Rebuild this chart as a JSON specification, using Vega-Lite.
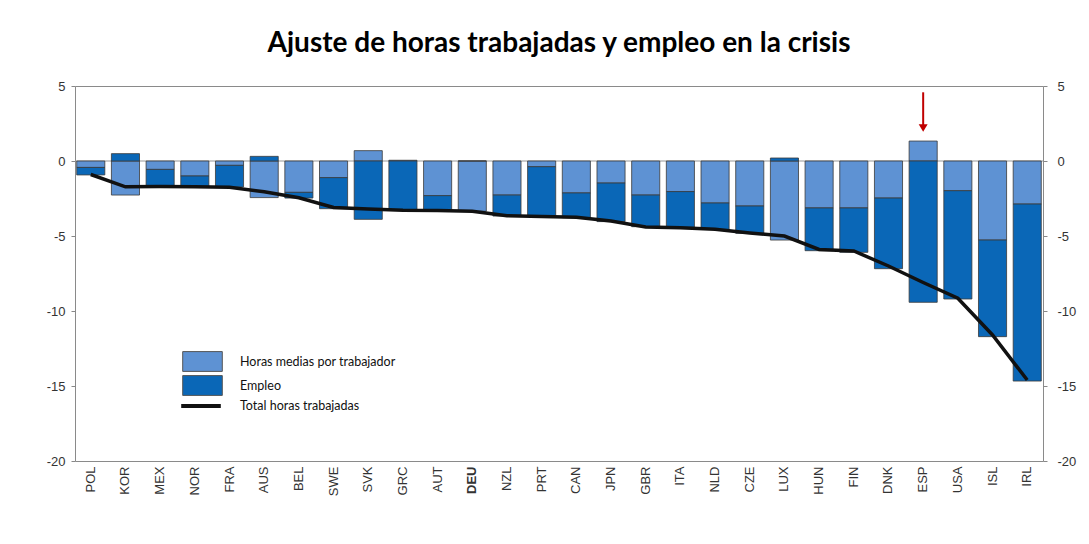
{
  "$schema": "https://vega.github.io/schema/vega-lite/v6.json",
  "autosize": "none",
  "width": 968,
  "height": 375,
  "padding": {"left": 75, "top": 86, "right": 46, "bottom": 83},
  "background": "white",
  "title": {"text": "Ajuste de horas trabajadas y empleo en la crisis", "font": "Lato", "fontSize": 28, "fontWeight": "bold", "color": "#000000", "anchor": "middle", "offset": 22},
  "config": {
    "view": {"stroke": "#8a8a8a", "strokeWidth": 1},
    "axis": {"labelFont": "Liberation Sans", "labelFontSize": 13, "labelColor": "#333333", "tickColor": "#888888", "tickSize": 4, "domain": false, "grid": false, "title": null}
  },
  "datasets": {
    "barras": [
      {"pais": "POL", "serie": "Horas medias por trabajador", "valor": -0.43},
      {"pais": "POL", "serie": "Empleo", "valor": -0.5},
      {"pais": "KOR", "serie": "Horas medias por trabajador", "valor": -2.27},
      {"pais": "KOR", "serie": "Empleo", "valor": 0.49},
      {"pais": "MEX", "serie": "Horas medias por trabajador", "valor": -0.56},
      {"pais": "MEX", "serie": "Empleo", "valor": -1.11},
      {"pais": "NOR", "serie": "Horas medias por trabajador", "valor": -1.0},
      {"pais": "NOR", "serie": "Empleo", "valor": -0.7},
      {"pais": "FRA", "serie": "Horas medias por trabajador", "valor": -0.29},
      {"pais": "FRA", "serie": "Empleo", "valor": -1.44},
      {"pais": "AUS", "serie": "Horas medias por trabajador", "valor": -2.44},
      {"pais": "AUS", "serie": "Empleo", "valor": 0.31},
      {"pais": "BEL", "serie": "Horas medias por trabajador", "valor": -2.09},
      {"pais": "BEL", "serie": "Empleo", "valor": -0.38},
      {"pais": "SWE", "serie": "Horas medias por trabajador", "valor": -1.11},
      {"pais": "SWE", "serie": "Empleo", "valor": -2.07},
      {"pais": "SVK", "serie": "Horas medias por trabajador", "valor": 0.69},
      {"pais": "SVK", "serie": "Empleo", "valor": -3.89},
      {"pais": "GRC", "serie": "Horas medias por trabajador", "valor": 0.05},
      {"pais": "GRC", "serie": "Empleo", "valor": -3.27},
      {"pais": "AUT", "serie": "Horas medias por trabajador", "valor": -2.31},
      {"pais": "AUT", "serie": "Empleo", "valor": -0.98},
      {"pais": "DEU", "serie": "Horas medias por trabajador", "valor": -3.35},
      {"pais": "DEU", "serie": "Empleo", "valor": 0.0},
      {"pais": "NZL", "serie": "Horas medias por trabajador", "valor": -2.27},
      {"pais": "NZL", "serie": "Empleo", "valor": -1.4},
      {"pais": "PRT", "serie": "Horas medias por trabajador", "valor": -0.38},
      {"pais": "PRT", "serie": "Empleo", "valor": -3.29},
      {"pais": "CAN", "serie": "Horas medias por trabajador", "valor": -2.13},
      {"pais": "CAN", "serie": "Empleo", "valor": -1.65},
      {"pais": "JPN", "serie": "Horas medias por trabajador", "valor": -1.47},
      {"pais": "JPN", "serie": "Empleo", "valor": -2.57},
      {"pais": "GBR", "serie": "Horas medias por trabajador", "valor": -2.27},
      {"pais": "GBR", "serie": "Empleo", "valor": -2.11},
      {"pais": "ITA", "serie": "Horas medias por trabajador", "valor": -2.04},
      {"pais": "ITA", "serie": "Empleo", "valor": -2.38},
      {"pais": "NLD", "serie": "Horas medias por trabajador", "valor": -2.8},
      {"pais": "NLD", "serie": "Empleo", "valor": -1.76},
      {"pais": "CZE", "serie": "Horas medias por trabajador", "valor": -3.0},
      {"pais": "CZE", "serie": "Empleo", "valor": -1.82},
      {"pais": "LUX", "serie": "Horas medias por trabajador", "valor": -5.27},
      {"pais": "LUX", "serie": "Empleo", "valor": 0.2},
      {"pais": "HUN", "serie": "Horas medias por trabajador", "valor": -3.13},
      {"pais": "HUN", "serie": "Empleo", "valor": -2.85},
      {"pais": "FIN", "serie": "Horas medias por trabajador", "valor": -3.13},
      {"pais": "FIN", "serie": "Empleo", "valor": -2.96},
      {"pais": "DNK", "serie": "Horas medias por trabajador", "valor": -2.47},
      {"pais": "DNK", "serie": "Empleo", "valor": -4.71},
      {"pais": "ESP", "serie": "Horas medias por trabajador", "valor": 1.33},
      {"pais": "ESP", "serie": "Empleo", "valor": -9.42},
      {"pais": "USA", "serie": "Horas medias por trabajador", "valor": -1.98},
      {"pais": "USA", "serie": "Empleo", "valor": -7.22},
      {"pais": "ISL", "serie": "Horas medias por trabajador", "valor": -5.27},
      {"pais": "ISL", "serie": "Empleo", "valor": -6.44},
      {"pais": "IRL", "serie": "Horas medias por trabajador", "valor": -2.87},
      {"pais": "IRL", "serie": "Empleo", "valor": -11.8}
    ],
    "total": [
      {"pais": "POL", "total": -0.9, "serie": "Total horas trabajadas"},
      {"pais": "KOR", "total": -1.72, "serie": "Total horas trabajadas"},
      {"pais": "MEX", "total": -1.7, "serie": "Total horas trabajadas"},
      {"pais": "NOR", "total": -1.72, "serie": "Total horas trabajadas"},
      {"pais": "FRA", "total": -1.75, "serie": "Total horas trabajadas"},
      {"pais": "AUS", "total": -2.05, "serie": "Total horas trabajadas"},
      {"pais": "BEL", "total": -2.45, "serie": "Total horas trabajadas"},
      {"pais": "SWE", "total": -3.1, "serie": "Total horas trabajadas"},
      {"pais": "SVK", "total": -3.2, "serie": "Total horas trabajadas"},
      {"pais": "GRC", "total": -3.28, "serie": "Total horas trabajadas"},
      {"pais": "AUT", "total": -3.3, "serie": "Total horas trabajadas"},
      {"pais": "DEU", "total": -3.35, "serie": "Total horas trabajadas"},
      {"pais": "NZL", "total": -3.65, "serie": "Total horas trabajadas"},
      {"pais": "PRT", "total": -3.7, "serie": "Total horas trabajadas"},
      {"pais": "CAN", "total": -3.75, "serie": "Total horas trabajadas"},
      {"pais": "JPN", "total": -4.0, "serie": "Total horas trabajadas"},
      {"pais": "GBR", "total": -4.4, "serie": "Total horas trabajadas"},
      {"pais": "ITA", "total": -4.45, "serie": "Total horas trabajadas"},
      {"pais": "NLD", "total": -4.55, "serie": "Total horas trabajadas"},
      {"pais": "CZE", "total": -4.8, "serie": "Total horas trabajadas"},
      {"pais": "LUX", "total": -5.0, "serie": "Total horas trabajadas"},
      {"pais": "HUN", "total": -5.9, "serie": "Total horas trabajadas"},
      {"pais": "FIN", "total": -6.0, "serie": "Total horas trabajadas"},
      {"pais": "DNK", "total": -7.0, "serie": "Total horas trabajadas"},
      {"pais": "ESP", "total": -8.1, "serie": "Total horas trabajadas"},
      {"pais": "USA", "total": -9.15, "serie": "Total horas trabajadas"},
      {"pais": "ISL", "total": -11.6, "serie": "Total horas trabajadas"},
      {"pais": "IRL", "total": -14.6, "serie": "Total horas trabajadas"}
    ]
  },
  "resolve": {"axis": {"y": "independent"}},
  "layer": [
    {
      "data": {"values": [{}]},
      "mark": {"type": "rule", "color": "#999999", "strokeWidth": 1},
      "encoding": {
        "y": {"datum": 0, "type": "quantitative", "scale": {"domain": [-20, 5], "nice": false}, "axis": null}
      }
    },
    {
      "data": {"name": "barras"},
      "mark": {"type": "bar", "stroke": "#3a3a3a", "strokeWidth": 0.8},
      "encoding": {
        "x": {
          "field": "pais", "type": "nominal",
          "scale": {"domain": ["POL","KOR","MEX","NOR","FRA","AUS","BEL","SWE","SVK","GRC","AUT","DEU","NZL","PRT","CAN","JPN","GBR","ITA","NLD","CZE","LUX","HUN","FIN","DNK","ESP","USA","ISL","IRL"], "paddingInner": 0.19, "paddingOuter": 0.05},
          "axis": {"labelAngle": -90, "ticks": false, "labelPadding": 5, "labelFontSize": 13, "labelFontWeight": {"condition": {"test": "datum.value === 'DEU'", "value": "bold"}, "value": "normal"}, "labelColor": "#333333"}
        },
        "y": {
          "field": "valor", "type": "quantitative", "stack": "zero",
          "scale": {"domain": [-20, 5], "nice": false},
          "axis": {"orient": "left", "values": [5, 0, -5, -10, -15, -20], "labelPadding": 6, "labelExpr": "'' + datum.value"}
        },
        "color": {
          "field": "serie", "type": "nominal",
          "scale": {"domain": ["Horas medias por trabajador", "Empleo"], "range": ["#5E92D3", "#0A67B7"]},
          "legend": {
            "title": null, "orient": "none", "legendX": 118, "legendY": 266,
            "symbolType": "M-2.2,-1.1H2.2V1.1H-2.2Z", "symbolSize": 324, "symbolStrokeColor": "#555555", "symbolStrokeWidth": 1,
            "labelFont": "Lato", "labelFontSize": 12.5, "labelColor": "#111111", "labelOffset": 28, "rowPadding": -1
          }
        },
        "order": {"field": "serie", "sort": "descending"}
      }
    },
    {
      "data": {"name": "total"},
      "mark": {"type": "line", "strokeWidth": 3.5},
      "encoding": {
        "x": {"field": "pais", "type": "nominal"},
        "y": {"field": "total", "type": "quantitative", "scale": {"domain": [-20, 5], "nice": false},
          "axis": {"orient": "right", "values": [5, 0, -5, -10, -15, -20], "labelPadding": 10, "labelAlign": "left", "labelExpr": "'' + datum.value"}},
        "stroke": {
          "field": "serie", "type": "nominal",
          "scale": {"domain": ["Total horas trabajadas"], "range": ["#111111"]},
          "legend": {
            "title": null, "orient": "none", "legendX": 115, "legendY": 309,
            "symbolType": "M-2.2,0H2.2", "symbolSize": 324, "symbolStrokeWidth": 4,
            "labelFont": "Lato", "labelFontSize": 12.5, "labelColor": "#111111", "labelOffset": 28
          }
        }
      }
    },
    {
      "data": {"values": [{}]},
      "mark": {"type": "rule", "color": "#C00000", "strokeWidth": 2},
      "encoding": {
        "x": {"datum": "ESP", "type": "nominal"},
        "y": {"datum": 4.58, "type": "quantitative", "axis": null},
        "y2": {"datum": 2.4}
      }
    },
    {
      "data": {"values": [{}]},
      "mark": {"type": "point", "shape": "triangle-down", "filled": true, "color": "#C00000", "size": 80, "opacity": 1},
      "encoding": {
        "x": {"datum": "ESP", "type": "nominal"},
        "y": {"datum": 2.2, "type": "quantitative", "axis": null}
      }
    }
  ]
}
